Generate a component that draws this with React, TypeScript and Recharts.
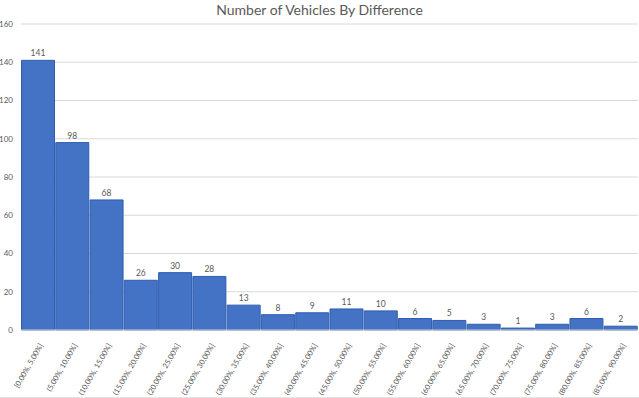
import React from "react";
import { BarChart, Bar, XAxis, YAxis, CartesianGrid, LabelList } from "recharts";

const categories = [
  "[0.00%, 5.00%]",
  "(5.00%, 10.00%]",
  "(10.00%, 15.00%]",
  "(15.00%, 20.00%]",
  "(20.00%, 25.00%]",
  "(25.00%, 30.00%]",
  "(30.00%, 35.00%]",
  "(35.00%, 40.00%]",
  "(40.00%, 45.00%]",
  "(45.00%, 50.00%]",
  "(50.00%, 55.00%]",
  "(55.00%, 60.00%]",
  "(60.00%, 65.00%]",
  "(65.00%, 70.00%]",
  "(70.00%, 75.00%]",
  "(75.00%, 80.00%]",
  "(80.00%, 85.00%]",
  "(85.00%, 90.00%]",
];
const counts = [141, 98, 68, 26, 30, 28, 13, 8, 9, 11, 10, 6, 5, 3, 1, 3, 6, 2];
const yTicks = [0, 20, 40, 60, 80, 100, 120, 140, 160];
const title = "Number of Vehicles By Difference";

const data = categories.map((c, i) => ({ bin: c, count: counts[i] }));

const FONT = "Lato, 'Open Sans', sans-serif";
const GREY = "#595959";

const XTick = (props: any) => {
  const { x, y, payload } = props;
  return (
    <g transform={`translate(${x + 3},${y + 6})`}>
      <text
        x={0}
        y={0}
        dy="0.35em"
        textAnchor="end"
        transform="rotate(-60)"
        fontSize={7.5}
        fill={GREY}
        fontFamily={FONT}
      >
        {payload.value}
      </text>
    </g>
  );
};

export default function App() {
  return (
    <div
      style={{
        position: "absolute",
        left: 0,
        top: 0,
        width: 639,
        height: 398,
        background: "#fff",
        fontFamily: FONT,
      }}
    >
      <div
        style={{
          position: "absolute",
          left: 0,
          top: 1,
          width: 639,
          textAlign: "center",
          fontSize: 14,
          color: GREY,
          fontFamily: FONT,
        }}
      >
        {title}
      </div>
      <BarChart
        width={639}
        height={397}
        data={data}
        margin={{ top: 24, right: 1, left: 0, bottom: 7 }}
        barCategoryGap={0.5}
      >
        <CartesianGrid vertical={false} stroke="#D9D9D9" />
        <XAxis
          dataKey="bin"
          interval={0}
          tickLine={false}
          axisLine={{ stroke: "#D9D9D9" }}
          height={60}
          tick={<XTick />}
        />
        <YAxis
          width={21}
          domain={[0, 160]}
          ticks={yTicks}
          tickLine={false}
          axisLine={false}
          tick={{ fontSize: 8, fill: GREY, fontFamily: FONT }}
        />
        <Bar
          dataKey="count"
          fill="#4472C4"
          stroke="#2F5DAF"
          strokeWidth={1}
          isAnimationActive={false}
        >
          <LabelList
            dataKey="count"
            position="top"
            offset={4}
            style={{ fontSize: 8.5, fill: GREY, fontFamily: FONT }}
          />
        </Bar>
      </BarChart>
      <div
        style={{
          position: "absolute",
          left: 0,
          top: 397,
          width: 639,
          height: 1,
          background: "#E3E3E3",
        }}
      />
    </div>
  );
}
